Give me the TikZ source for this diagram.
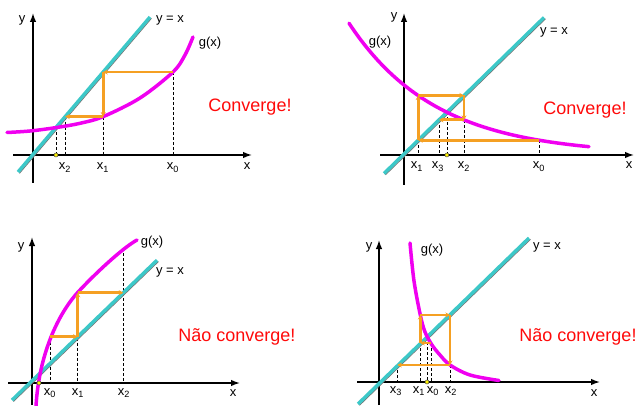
\documentclass[tikz,border=0pt]{standalone}
\usepackage{fontspec}
\setmainfont{Liberation Sans}
\usetikzlibrary{arrows.meta}
\definecolor{idcyan}{RGB}{60,200,200}
\definecolor{gmag}{RGB}{240,0,240}
\definecolor{cobor}{RGB}{245,160,35}
\definecolor{verdred}{RGB}{255,10,10}
\begin{document}
\begin{tikzpicture}[x=1pt,y=-1pt,
  axis/.style={line width=1.4pt,-{Latex[length=9pt,width=6.5pt]}},
  idshadow/.style={black!55,line width=1pt,transform canvas={shift={(1.4,1.3)}}},
  idline/.style={idcyan,line width=3.4pt},
  gcurve/.style={gmag,line width=3.5pt,line cap=round},
  cob/.style={cobor,line width=2.8pt,-{Stealth[length=4.5pt,width=5pt]}},
  guide/.style={black,line width=0.7pt,dash pattern=on 3pt off 2pt},
  fixdot/.style={circle,draw=black!70,fill=yellow,inner sep=0pt,minimum size=4pt,line width=0.5pt},
  lab/.style={font=\fontsize{13}{15}\selectfont,inner sep=0pt},
  xl/.style={lab,anchor=base},
  verdict/.style={font=\fontsize{18}{20}\selectfont,text=verdred,inner sep=0pt}]
\useasboundingbox (0,0) rectangle (637,406);
\fill[white] (0,0) rectangle (637,406);

% ================= Panel 1 =================
\coordinate (p1yb) at (33,183); \coordinate (p1yt) at (33,13);
\coordinate (p1xl) at (13,155); \coordinate (p1xr) at (252,155);
\coordinate (p1la) at (18,172); \coordinate (p1lb) at (150,17);
\coordinate (a0) at (173,72);   \coordinate (a0b) at (173,155);
\coordinate (a1) at (103.2,72);
\coordinate (a2) at (103.2,116.6); \coordinate (a2b) at (103.2,155);
\coordinate (a3) at (65.2,116.6);  \coordinate (a3b) at (65.2,155);
\coordinate (a4) at (56,127.5);    \coordinate (a4b) at (56,155);
\draw[guide] (a0) -- (a0b);
\draw[guide] (a2) -- (a2b);
\draw[guide] (a3) -- (a3b);
\draw[guide] (a4) -- (a4b);
\draw[axis] (p1yb) -- (p1yt);
\draw[axis] (p1xl) -- (p1xr);
\draw[idshadow] (p1la) -- (p1lb);
\draw[idline] (p1la) -- (p1lb);
\draw[gcurve] plot[smooth,tension=0.55] coordinates {(7,132.5) (30,131) (56,127.6) (80,123.3) (103.2,116.6) (140,98) (173,72) (185,55) (193,37)};
\draw[cob] (a0) -- (a1);
\draw[cob] (a1) -- (a2);
\draw[cob] (a2) -- (a3);
\node[fixdot] (d1) at (a4b) {};
\node[lab] (p1y) at (22,20) {y};
\node[lab] (p1x) at (247,166) {x};
\node[lab] (p1id) at (170,20) {y = x};
\node[lab] (p1g) at (210,43) {g(x)};
\node[xl] (p1x2) at (65,170) {x\textsubscript{2}};
\node[xl] (p1x1) at (103,170) {x\textsubscript{1}};
\node[xl] (p1x0) at (173,170) {x\textsubscript{0}};
\node[verdict] (p1v) at (250,107) {Converge!};

% ================= Panel 2 =================
\coordinate (p2yb) at (404,185); \coordinate (p2yt) at (404,13);
\coordinate (p2xl) at (380,155); \coordinate (p2xr) at (634,155);
\coordinate (p2la) at (384,173.5); \coordinate (p2lb) at (544,17.5);
\coordinate (b0) at (539,140.2); \coordinate (b0b) at (539,155);
\coordinate (b1) at (418.2,140.2); \coordinate (b1b) at (418.2,155);
\coordinate (b2) at (418.2,95.5);
\coordinate (b3) at (464,95.5);
\coordinate (b4) at (464,119.9); \coordinate (b4b) at (464,155);
\coordinate (b5) at (439,119.9); \coordinate (b5b) at (439,155);
\coordinate (b6) at (446.9,112.2); \coordinate (b6b) at (446.9,155);
\draw[guide] (b0) -- (b0b);
\draw[guide] (b1) -- (b1b);
\draw[guide] (b4) -- (b4b);
\draw[guide] (b5) -- (b5b);
\draw[guide] (b6) -- (b6b);
\draw[axis] (p2yb) -- (p2yt);
\draw[axis] (p2xl) -- (p2xr);
\draw[idshadow] (p2la) -- (p2lb);
\draw[idline] (p2la) -- (p2lb);
\draw[gcurve] plot[domain=349:589,samples=80] (\x,{155-70*exp(-0.0115*(\x-404))});
\draw[cob] (b0) -- (b1);
\draw[cob] (b1) -- (b2);
\draw[cob] (b2) -- (b3);
\draw[cob] (b3) -- (b4);
\draw[cob] (b4) -- (b5);
\node[fixdot] (d2) at (b6b) {};
\node[lab] (p2y) at (394,17) {y};
\node[lab] (p2x) at (629,165) {x};
\node[lab] (p2id) at (554,32) {y = x};
\node[lab] (p2g) at (380,42) {g(x)};
\node[xl] (p2x1) at (417,169) {x\textsubscript{1}};
\node[xl] (p2x3) at (438,169) {x\textsubscript{3}};
\node[xl] (p2x2) at (464,169) {x\textsubscript{2}};
\node[xl] (p2x0) at (539,169) {x\textsubscript{0}};
\node[verdict] (p2v) at (585,110) {Converge!};

% ================= Panel 3 =================
\coordinate (p3yb) at (32,405); \coordinate (p3yt) at (32,237);
\coordinate (p3xl) at (8,383); \coordinate (p3xr) at (240,383);
\coordinate (p3la) at (12,400.1); \coordinate (p3lb) at (157,260.2);
\coordinate (c0) at (50,336.7); \coordinate (c0b) at (50,383);
\coordinate (c1) at (77.7,336.7);
\coordinate (c2) at (77.7,292.7); \coordinate (c2b) at (77.7,383);
\coordinate (c3) at (123.3,292.7);
\coordinate (c4) at (123.3,248); \coordinate (c4b) at (123.3,383);
\coordinate (c5) at (39,383);
\draw[guide] (c0) -- (c0b);
\draw[guide] (c2) -- (c2b);
\draw[guide] (c4) -- (c4b);
\draw[axis] (p3yb) -- (p3yt);
\draw[axis] (p3xl) -- (p3xr);
\draw[idshadow] (p3la) -- (p3lb);
\draw[idline] (p3la) -- (p3lb);
\draw[gcurve] (36,406) .. controls (39,355) and (57.7,314.5) .. (77.7,292.5)
  .. controls (92.7,276) and (122,248.25) .. (137,240);
\draw[cob] (c0) -- (c1);
\draw[cob] (c1) -- (c2);
\draw[cob] (c2) -- (c3);
\node[fixdot] (d3) at (c5) {};
\node[lab] (p3y) at (21,247) {y};
\node[lab] (p3x) at (233,393) {x};
\node[lab] (p3id) at (170,272) {y = x};
\node[lab] (p3g) at (152,242) {g(x)};
\node[xl] (p3x0) at (50,395) {x\textsubscript{0}};
\node[xl] (p3x1) at (78,395) {x\textsubscript{1}};
\node[xl] (p3x2) at (124,395) {x\textsubscript{2}};
\node[verdict] (p3v) at (237,337) {Não converge!};

% ================= Panel 4 =================
\coordinate (p4yb) at (379,405); \coordinate (p4yt) at (379,240);
\coordinate (p4xl) at (357,382); \coordinate (p4xr) at (600,382);
\coordinate (p4la) at (358,404); \coordinate (p4lb) at (529,238);
\coordinate (e0) at (431,343); \coordinate (e0b) at (431,382);
\coordinate (e1) at (420.3,343); \coordinate (e1b) at (420.3,382);
\coordinate (e2) at (420.3,315);
\coordinate (e3) at (450,315);
\coordinate (e4) at (450,365); \coordinate (e4b) at (450,382);
\coordinate (e5) at (397.3,365); \coordinate (e5b) at (397.3,382);
\coordinate (e6) at (427,337); \coordinate (e6b) at (427,382);
\draw[guide] (e0) -- (e0b);
\draw[guide] (e1) -- (e1b);
\draw[guide] (e4) -- (e4b);
\draw[guide] (e5) -- (e5b);
\draw[guide] (e6) -- (e6b);
\draw[axis] (p4yb) -- (p4yt);
\draw[axis] (p4xl) -- (p4xr);
\draw[idshadow] (p4la) -- (p4lb);
\draw[idline] (p4la) -- (p4lb);
\draw[gcurve] plot[smooth,tension=0.55] coordinates {(410,243) (414,281) (420.3,315) (425,332) (432,345) (440,355) (450,365) (470,375) (499,380.5)};
\draw[cob] (e0) -- (e1);
\draw[cob] (e1) -- (e2);
\draw[cob] (e2) -- (e3);
\draw[cob] (e3) -- (e4);
\draw[cob] (e4) -- (e5);
\node[fixdot] (d4) at (e6b) {};
\node[lab] (p4y) at (369,247) {y};
\node[lab] (p4x) at (594,393) {x};
\node[lab] (p4id) at (547,247) {y = x};
\node[lab] (p4g) at (432,250) {g(x)};
\node[xl] (p4x3) at (396,393) {x\textsubscript{3}};
\node[xl] (p4x1) at (419,393) {x\textsubscript{1}};
\node[xl] (p4x0) at (433,393) {x\textsubscript{0}};
\node[xl] (p4x2) at (451,393) {x\textsubscript{2}};
\node[verdict] (p4v) at (578,337) {Não converge!};
\end{tikzpicture}
\end{document}
